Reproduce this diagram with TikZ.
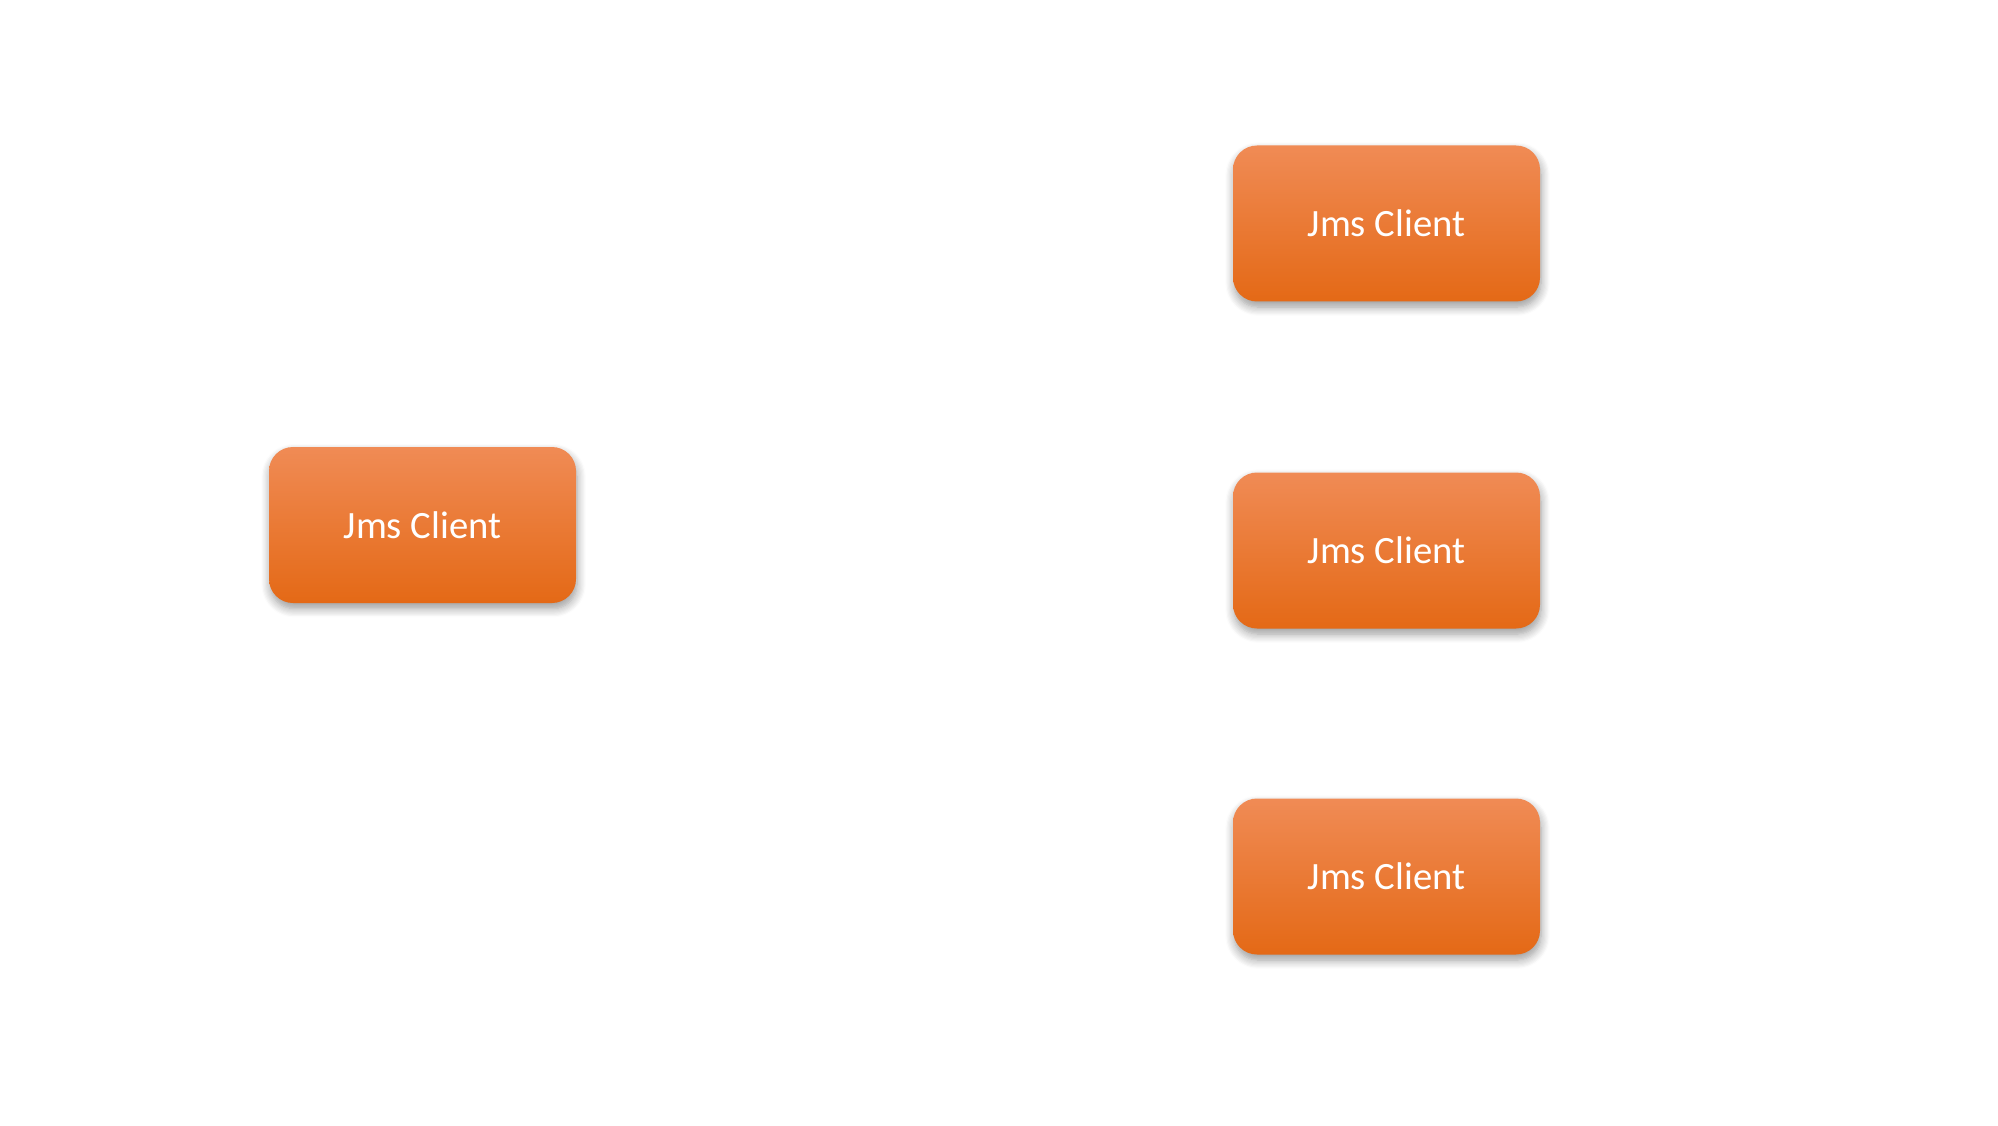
\documentclass[tikz,border=0pt]{standalone}
\usepackage{fontspec}
\setmainfont{Carlito}
\usetikzlibrary{shadows.blur}
\definecolor{boxtop}{HTML}{F08B55}
\definecolor{boxmid}{HTML}{F37A27}
\definecolor{boxbot}{HTML}{E46916}
\tikzset{
	clientbox/.style={rounded corners=0.24cm, minimum width=3.07cm, minimum height=1.56cm,
		top color=boxtop, middle color=boxmid, bottom color=boxbot, text=white,
		font=\fontsize{11}{13}\selectfont,
		blur shadow={shadow xshift=0.3pt, shadow yshift=-1.6pt, shadow blur steps=8, shadow blur radius=2.5pt, shadow opacity=40}}
}
\begin{document}
\begin{tikzpicture}

		\useasboundingbox (0,0) rectangle (19.98,11.25);

		\node[clientbox] (client_L) at (4.225,6.0) {Jms Client};
		\node[clientbox] (client_R1) at (13.865,9.015) {Jms Client};
		\node[clientbox] (client_R2) at (13.865,5.745) {Jms Client};
		\node[clientbox] (client_R3) at (13.865,2.485) {Jms Client};

	\end{tikzpicture}
\end{document}
